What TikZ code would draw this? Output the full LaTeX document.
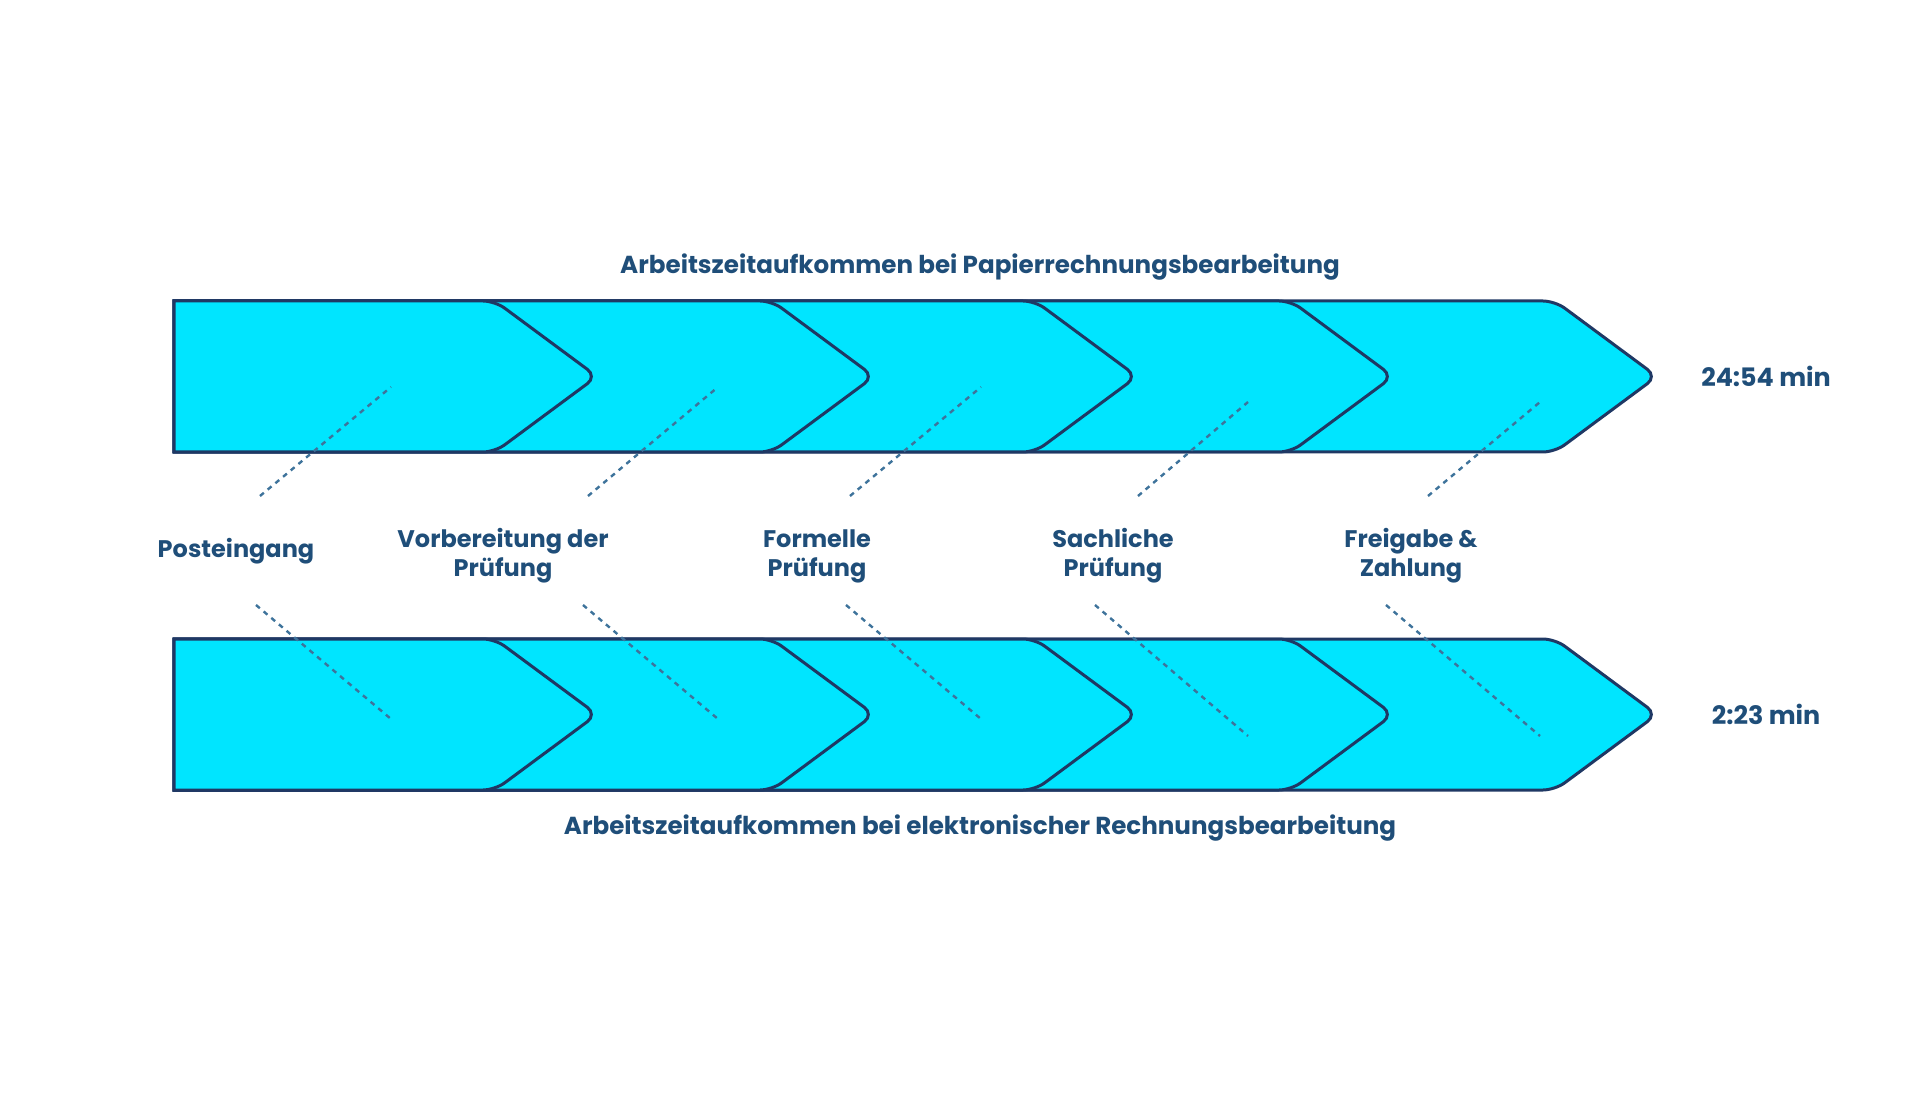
\documentclass[tikz,border=0pt]{standalone}
\usepackage{fontspec}
\setmainfont{Poppins}
\usetikzlibrary{positioning}
\definecolor{bandfill}{RGB}{0,229,255}
\definecolor{bandline}{RGB}{31,56,100}
\definecolor{textblue}{RGB}{31,78,121}
\definecolor{dashblue}{RGB}{62,115,155}
% one arrow step: #1 = x of the tip, #2 = y of the top edge
\newcommand{\chevron}[2]{%
  \draw[band] (174,#2) [rounded corners=6pt] -- ({#1-96},#2) -- ({#1+6},{#2+75.5}) -- ({#1-96},{#2+151}) [sharp corners] -- (174,{#2+151}) -- cycle;}

\begin{document}
\begin{tikzpicture}[x=0.5pt, y=-0.5pt,
    band/.style={draw=bandline, line width=1.5pt, fill=bandfill},
    lbl/.style={text=textblue, font=\bfseries\fontsize{12}{14.5}\selectfont, align=center},
    title/.style={lbl, font=\bfseries\fontsize{12.3}{14.5}\selectfont},
    lead/.style={draw=dashblue, line width=1.2pt, dash pattern=on 2.5pt off 2.5pt}]
  \useasboundingbox (0,0) rectangle (1920,1095);

  % paper based
  \chevron{1651}{301} \chevron{1387}{301} \chevron{1131}{301} \chevron{868}{301} \chevron{591}{301}
  % electronic
  \chevron{1651}{639} \chevron{1387}{639} \chevron{1131}{639} \chevron{868}{639} \chevron{591}{639}

  \node[title] (papier) at (980, 267) {Arbeitszeitaufkommen bei Papierrechnungsbearbeitung};
  \node[title] (elektro) at (980, 828) {Arbeitszeitaufkommen bei elektronischer Rechnungsbearbeitung};
  \node[lbl, font=\bfseries\fontsize{12.7}{14.5}\selectfont] (tpapier) at (1766, 376) {24:54 min};
  \node[lbl, font=\bfseries\fontsize{12.7}{14.5}\selectfont] (telektro) at (1766, 714) {2:23 min};

  \node[lbl] (post) at (236, 551) {Posteingang};
  \node[lbl] (vorb) at (503, 556) {Vorbereitung der\\Prüfung};
  \node[lbl] (form) at (817, 556) {Formelle\\Prüfung};
  \node[lbl] (sach) at (1113, 556) {Sachliche\\Prüfung};
  \node[lbl] (frei) at (1411, 556) {Freigabe \&\\Zahlung};

  % leader lines, upper row
  \coordinate (u1) at (260, 496); \coordinate (a1) at (391, 387);
  \coordinate (u2) at (588, 496); \coordinate (a2) at (718, 387);
  \coordinate (u3) at (850, 496); \coordinate (a3) at (981, 387);
  \coordinate (u4) at (1138, 496); \coordinate (a4) at (1248, 402);
  \coordinate (u5) at (1428, 496); \coordinate (a5) at (1540, 402);
  % leader lines, lower row
  \coordinate (d1) at (256, 605); \coordinate (b1) at (391, 719);
  \coordinate (d2) at (583, 605); \coordinate (b2) at (718, 719);
  \coordinate (d3) at (846, 605); \coordinate (b3) at (981, 719);
  \coordinate (d4) at (1095, 605); \coordinate (b4) at (1248, 736);
  \coordinate (d5) at (1386, 605); \coordinate (b5) at (1540, 736);

  \draw[lead] (u1) -- (a1);
  \draw[lead] (u2) -- (a2);
  \draw[lead] (u3) -- (a3);
  \draw[lead] (u4) -- (a4);
  \draw[lead] (u5) -- (a5);
  \draw[lead] (d1) -- (b1);
  \draw[lead] (d2) -- (b2);
  \draw[lead] (d3) -- (b3);
  \draw[lead] (d4) -- (b4);
  \draw[lead] (d5) -- (b5);
\end{tikzpicture}
\end{document}
